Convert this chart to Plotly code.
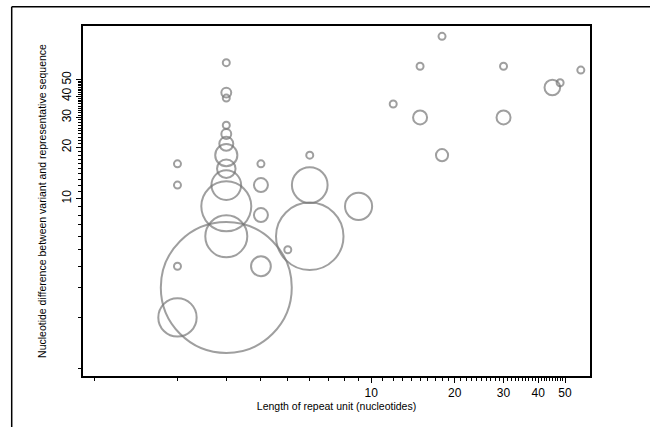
import plotly.graph_objects as go

# Data: length of repeat unit (x), nucleotide difference (y), number of variants (bubble size)
repeat_len = [2, 2, 2, 2,
              3, 3, 3, 3, 3, 3, 3, 3, 3, 3, 3, 3,
              4, 4, 4, 4,
              5,
              6, 6, 6,
              9,
              12,
              15, 15,
              18, 18,
              30, 30,
              45, 48, 57]
nuc_diff = [16, 12, 4, 2,
            63, 42, 39, 27, 24, 21, 18, 15, 12, 9, 6, 3,
            16, 12, 8, 4,
            5,
            18, 12, 6,
            9,
            36,
            60, 30,
            90, 18,
            60, 30,
            45, 48, 57]
n_variants = [1, 1, 1, 30,
              1, 2, 1, 1, 2, 4, 10, 7, 18, 51, 36, 350,
              1, 4, 4, 8,
              1,
              1, 26, 93,
              15,
              1,
              1, 4,
              1, 3,
              1, 4,
              5, 1, 1]

major_ticks = [10, 20, 30, 40, 50]
minor_ticks = [v for v in range(1, 51) if v not in major_ticks]

W, H = 650, 427
ML, MR, MT, MB = 83, 60, 26, 51
PW, PH = W - ML - MR, H - MT - MB

FONT = "Liberation Sans, Arial, sans-serif"
STROKE = "#777777"

fig = go.Figure()
fig.add_trace(go.Scatter(
    x=repeat_len, y=nuc_diff, mode="markers",
    marker=dict(size=n_variants, sizemode="area", sizeref=1 / 24.5,
                color="rgba(0,0,0,0)",
                line=dict(color=STROKE, width=2)),
    showlegend=False, hoverinfo="x+y+text", text=[f"n={n}" for n in n_variants],
))

axis_common = dict(
    type="log", showgrid=False, zeroline=False, automargin=False,
    showline=True, linecolor="black", linewidth=1.5, mirror=True,
    ticks="outside", ticklen=5, tickwidth=1, tickcolor="black",
    tickmode="array", tickvals=major_ticks, ticktext=[str(v) for v in major_ticks],
    tickfont=dict(family=FONT, size=12, color="black"),
    minor=dict(tickmode="array", tickvals=minor_ticks, ticks="outside",
               ticklen=3, tickwidth=1, tickcolor="black", showgrid=False),
)

fig.update_layout(
    width=W, height=H,
    margin=dict(l=ML, r=MR, t=MT, b=MB, autoexpand=False),
    paper_bgcolor="white", plot_bgcolor="white",
    font=dict(family=FONT, color="black"),
    xaxis=dict(axis_common, range=[-0.0397, 1.789],
               title=dict(text="Length of repeat unit (nucleotides)",
                          font=dict(family=FONT, size=10.5), standoff=2)),
    yaxis=dict(axis_common, range=[-0.0435, 2.015], tickangle=-90,
               title=dict(text="Nucleotide difference between variant and representative sequence",
                          font=dict(family=FONT, size=10.5), standoff=12)),
)

# outer frame lines (left and top) of the figure panel
fx = (11.7 - ML) / PW
fy = (MT + PH - 6.7) / PH
fig.add_shape(type="line", xref="paper", yref="paper", x0=fx, x1=fx, y0=fy, y1=-(MB + 2) / PH,
              line=dict(color="black", width=1.5), layer="above")
fig.add_shape(type="line", xref="paper", yref="paper", x0=fx, x1=(W + 2 - ML) / PW, y0=fy, y1=fy,
              line=dict(color="black", width=1.5), layer="above")

fig.write_html("out.html", config={"displayModeBar": False},
               post_script="document.body.style.margin='0';document.body.style.overflow='hidden';")
